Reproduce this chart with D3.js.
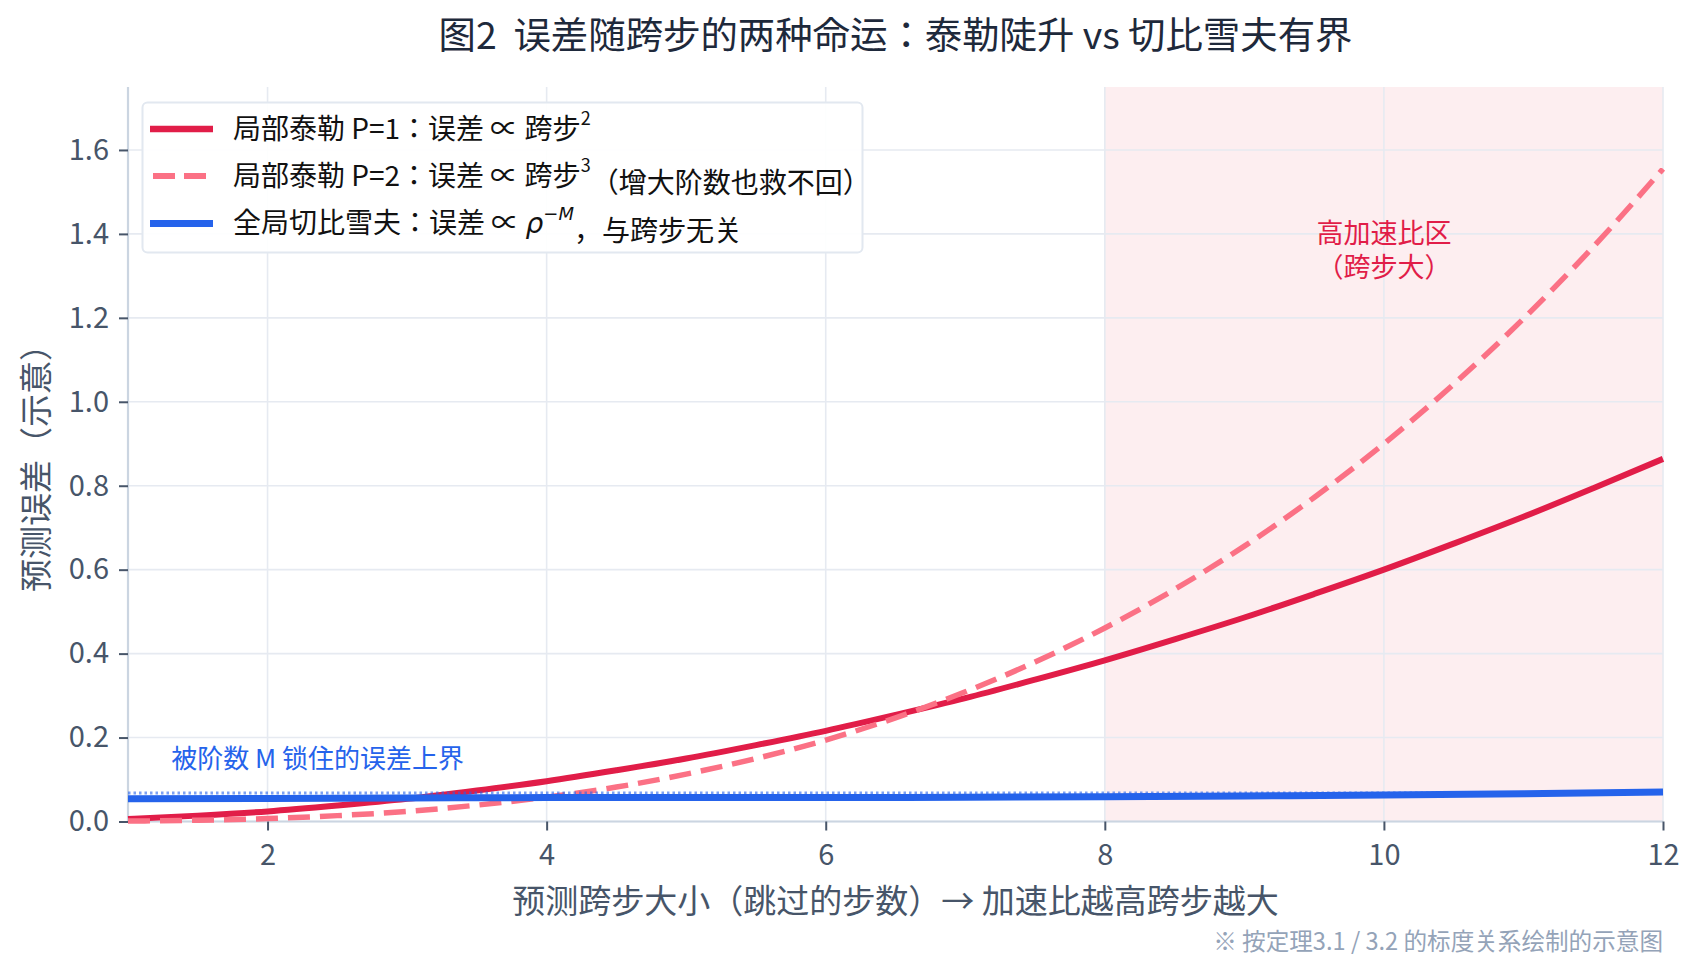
<!DOCTYPE html>
<html><head><meta charset="utf-8">
<script src="https://cdn.jsdelivr.net/npm/d3@7"></script>
<style>
body{margin:0;background:#fff;}
text{font-family:"Noto Sans CJK JP","Noto Sans CJK SC","Noto Sans",sans-serif;}
</style></head>
<body><svg id="c" width="1699" height="973"></svg>
<script>
// ---- data ----
const stepX = [1,1.5,2,2.5,3,3.5,4,4.5,5,5.5,6,6.5,7,7.5,8,8.5,9,9.5,10,10.5,11,11.5,12];
const taylorP1 = [0.006,0.014,0.024,0.038,0.054,0.074,0.096,0.122,0.150,0.182,0.216,0.254,0.294,0.338,0.384,0.434,0.486,0.542,0.600,0.662,0.726,0.794,0.864];
const taylorP2 = [0.001,0.003,0.007,0.014,0.024,0.039,0.058,0.082,0.113,0.150,0.194,0.247,0.309,0.380,0.461,0.553,0.656,0.772,0.900,1.042,1.198,1.369,1.555];
const chebX = [1,2,3,4,5,6,7,8,9,10,11,12];
const chebyshev = [0.054,0.055,0.056,0.057,0.057,0.057,0.058,0.059,0.061,0.063,0.066,0.070];
const boundValue = 0.068;
const highRegion = [8,12];
const xTicks = [2,4,6,8,10,12];
const yTicks = [0,0.2,0.4,0.6,0.8,1.0,1.2,1.4,1.6];
const title = "图2\u00a0\u00a0误差随跨步的两种命运：泰勒陡升 vs 切比雪夫有界";
const xLabel = "预测跨步大小（跳过的步数）→ 加速比越高跨步越大";
const yLabel = "预测误差（示意）";
const footnote = "※ 按定理3.1 / 3.2 的标度关系绘制的示意图";

const FONT = '"Noto Sans CJK JP","Noto Sans CJK SC","Noto Sans",sans-serif';
const svg = d3.select("#c");
const L=128, R=1663, T=87, B=821.5;
const x = d3.scaleLinear().domain([1,12]).range([L,R]);
const y = d3.scaleLinear().domain([0,1.75]).range([B,T]);

// shaded region
svg.append("rect").attr("x",x(highRegion[0])).attr("y",T)
  .attr("width",x(highRegion[1])-x(highRegion[0])).attr("height",B-T)
  .attr("fill","#fdeef0");

// grid
const g = svg.append("g");
g.selectAll(".gx").data(xTicks).join("line")
  .attr("x1",d=>x(d)).attr("x2",d=>x(d)).attr("y1",T).attr("y2",B)
  .attr("stroke","#e6eaf1").attr("stroke-width",1.6);
g.selectAll(".gy").data(yTicks).join("line")
  .attr("x1",L).attr("x2",R).attr("y1",d=>y(d)).attr("y2",d=>y(d))
  .attr("stroke","#e6eaf1").attr("stroke-width",1.6);

// axes
const xa = svg.append("g").attr("transform",`translate(0,${B})`)
  .call(d3.axisBottom(x).tickValues(xTicks).tickFormat(d3.format("d")).tickSize(9).tickPadding(14));
const ya = svg.append("g").attr("transform",`translate(${L},0)`)
  .call(d3.axisLeft(y).tickValues(yTicks).tickFormat(d3.format(".1f")).tickSize(9).tickPadding(10));
[xa,ya].forEach(a=>{
  a.select(".domain").attr("stroke","#cbd5e1").attr("stroke-width",2.2);
  a.selectAll(".tick line").attr("stroke","#475569").attr("stroke-width",2);
  a.selectAll(".tick text").attr("fill","#475569").style("font-size","29px").style("font-family",FONT);
});
xa.select(".domain").attr("d",`M${L},0H${R}`);
ya.select(".domain").attr("d",`M0,${B}V${T}`);

// lines
const line = d3.line().x(d=>x(d[0])).y(d=>y(d[1])).curve(d3.curveMonotoneX);
svg.append("path").datum(stepX.map((v,i)=>[v,taylorP1[i]])).attr("d",line)
  .attr("fill","none").attr("stroke","#e11d48").attr("stroke-width",6);
svg.append("path").datum(stepX.map((v,i)=>[v,taylorP2[i]])).attr("d",line)
  .attr("fill","none").attr("stroke","#fb7185").attr("stroke-width",5.5)
  .attr("stroke-dasharray","22,10");
svg.append("line").attr("x1",L).attr("x2",R).attr("y1",y(boundValue)).attr("y2",y(boundValue))
  .attr("stroke","#2563eb").attr("stroke-opacity",0.6).attr("stroke-width",3).attr("stroke-dasharray","2.5,3");
svg.append("path").datum(chebX.map((v,i)=>[v,chebyshev[i]])).attr("d",line)
  .attr("fill","none").attr("stroke","#2563eb").attr("stroke-width",7);

// annotations
svg.append("text").attr("x",x(1.31)).attr("y",y(0.15)).attr("dy","0.35em")
  .attr("fill","#2563eb").style("font-size","26px").text("被阶数 M 锁住的误差上界");
const ann = svg.append("text").attr("text-anchor","middle").attr("fill","#e11d48").style("font-size","27px");
ann.append("tspan").attr("x",x(10)).attr("y",y(1.40)).attr("dy","0.35em").text("高加速比区");
ann.append("tspan").attr("x",x(10)).attr("y",y(1.321)).attr("dy","0.35em").text("（跨步大）");

// legend
const lg = svg.append("g");
lg.append("rect").attr("x",142.5).attr("y",102.5).attr("width",720).attr("height",150).attr("rx",5)
  .attr("fill","#fff").attr("fill-opacity",0.92).attr("stroke","#e2e8f0").attr("stroke-width",2);
const rows=[129,176,223.5];
lg.append("line").attr("x1",150).attr("x2",213).attr("y1",rows[0]).attr("y2",rows[0]).attr("stroke","#e11d48").attr("stroke-width",6.5);
lg.append("line").attr("x1",153).attr("x2",213).attr("y1",rows[1]).attr("y2",rows[1]).attr("stroke","#fb7185").attr("stroke-width",6).attr("stroke-dasharray","22,9");
lg.append("line").attr("x1",150).attr("x2",213).attr("y1",rows[2]).attr("y2",rows[2]).attr("stroke","#2563eb").attr("stroke-width",7);
function ltext(yy){return lg.append("text").attr("x",233).attr("y",yy).attr("dy","0.35em").attr("fill","#111").style("font-size","28px");}
let t1=ltext(rows[0]); t1.append("tspan").text("局部泰勒 P=1：误差 ∝ 跨步");
t1.append("tspan").attr("dy","-0.75em").style("font-size","18px").text("2");
let t2=ltext(rows[1]); t2.append("tspan").text("局部泰勒 P=2：误差 ∝ 跨步");
t2.append("tspan").attr("dy","-0.75em").style("font-size","18px").text("3");
t2.append("tspan").attr("dy","0.75em").text("（增大阶数也救不回）");
let t3=ltext(rows[2]); t3.append("tspan").text("全局切比雪夫：误差 ∝ ");
t3.append("tspan").style("font-style","italic").style("font-family","DejaVu Sans").text("ρ");
t3.append("tspan").attr("dy","-0.75em").style("font-size","18px").style("font-style","italic").style("font-family","DejaVu Sans").text("−M");
t3.append("tspan").attr("dy","0.75em").text("，与跨步无关");

// titles
svg.append("text").attr("x",(L+R)/2).attr("y",36).attr("dy","0.35em").attr("text-anchor","middle")
  .attr("fill","#1e293b").style("font-size","37.4px").text(title);
svg.append("text").attr("x",(L+R)/2).attr("y",901).attr("dy","0.35em").attr("text-anchor","middle")
  .attr("fill","#475569").style("font-size","33px").text(xLabel);
svg.append("text").attr("transform",`translate(36,460) rotate(-90)`).attr("dy","0.35em").attr("text-anchor","middle")
  .attr("fill","#475569").style("font-size","33px").text(yLabel);
svg.append("text").attr("x",R).attr("y",942).attr("dy","0.35em").attr("text-anchor","end")
  .attr("fill","#94a3b8").style("font-size","23.6px").text(footnote);
</script></body></html>
